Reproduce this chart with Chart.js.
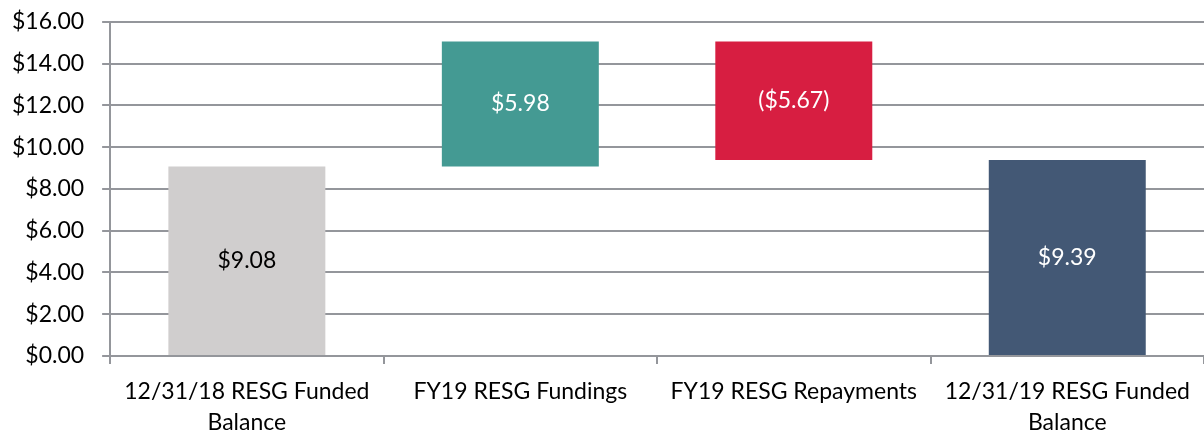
<!DOCTYPE html>
<html>
<head>
<meta charset="utf-8">
<script src="https://cdn.jsdelivr.net/npm/chart.js@4/dist/chart.umd.min.js"></script>
<style>
body { margin: 0; background: #fff; }
#wrap { width: 1204px; height: 434px; }
</style>
</head>
<body>
<div id="wrap"><canvas id="fundChart"></canvas></div>
<script>
// categories on the x axis (second line is wrapped text)
const categories = [
  ["12/31/18 RESG Funded", "Balance"],
  "FY19 RESG Fundings",
  "FY19 RESG Repayments",
  ["12/31/19 RESG Funded", "Balance"]
];
// waterfall: bottom and top of each bar, $ millions
const barStart = [0, 9.08, 9.39, 0];
const barEnd = [9.08, 15.06, 15.06, 9.39];
const valueLabels = ["$9.08", "$5.98", "($5.67)", "$9.39"];
const barColors = ["#d0cece", "#449a93", "#d71e41", "#435875"];
const labelColors = ["#000000", "#ffffff", "#ffffff", "#ffffff"];
const yTicks = [0, 2, 4, 6, 8, 10, 12, 14, 16];

const fontFamily = "Lato, 'Open Sans', sans-serif";
const axisGray = "#94969b";

// draws the value text in the middle of each bar
const barText = {
  id: 'barText',
  afterDatasetsDraw(chart) {
    const ctx = chart.ctx;
    const meta = chart.getDatasetMeta(0);
    ctx.save();
    ctx.font = "23px " + fontFamily;
    ctx.textAlign = "center";
    ctx.textBaseline = "middle";
    meta.data.forEach(function(bar, i) {
      ctx.fillStyle = labelColors[i];
      ctx.fillText(valueLabels[i], bar.x, (bar.y + bar.base) / 2);
    });
    ctx.restore();
  }
};

var ctx = document.getElementById("fundChart").getContext('2d');
var fundChart = new Chart(ctx, {
  type: 'bar',
  data: {
    labels: categories,
    datasets: [{
      data: barStart.map(function(s, i) { return [s, barEnd[i]]; }),
      backgroundColor: barColors,
      borderWidth: 0,
      categoryPercentage: 1,
      barPercentage: 0.574
    }]
  },
  options: {
    responsive: true,
    maintainAspectRatio: false,
    animation: false,
    layout: { padding: { left: -6, top: 22, right: 0, bottom: -16 } },
    plugins: {
      legend: { display: false },
      tooltip: { enabled: false }
    },
    scales: {
      x: {
        offset: true,
        grid: {
          offset: true,
          drawOnChartArea: false,
          color: axisGray,
          lineWidth: 2,
          tickLength: 8
        },
        border: { color: axisGray, width: 2 },
        ticks: {
          color: "#000",
          font: { family: fontFamily, size: 23, lineHeight: 1.35 },
          padding: 12,
          maxRotation: 0,
          autoSkip: false
        }
      },
      y: {
        min: 0,
        max: 16,
        afterBuildTicks: function(axis) {
          axis.ticks = yTicks.map(function(v) { return { value: v }; });
        },
        afterFit: function(axis) {
          // let the top gridline sit close to the edge like the original
          axis.paddingTop = 0;
        },
        grid: {
          color: axisGray,
          lineWidth: 2,
          tickLength: 8
        },
        border: { color: axisGray, width: 2 },
        ticks: {
          color: "#000",
          font: { family: fontFamily, size: 23 },
          padding: 18,
          callback: function(v) { return "$" + Number(v).toFixed(2); }
        }
      }
    }
  },
  plugins: [barText]
});
</script>
</body>
</html>
